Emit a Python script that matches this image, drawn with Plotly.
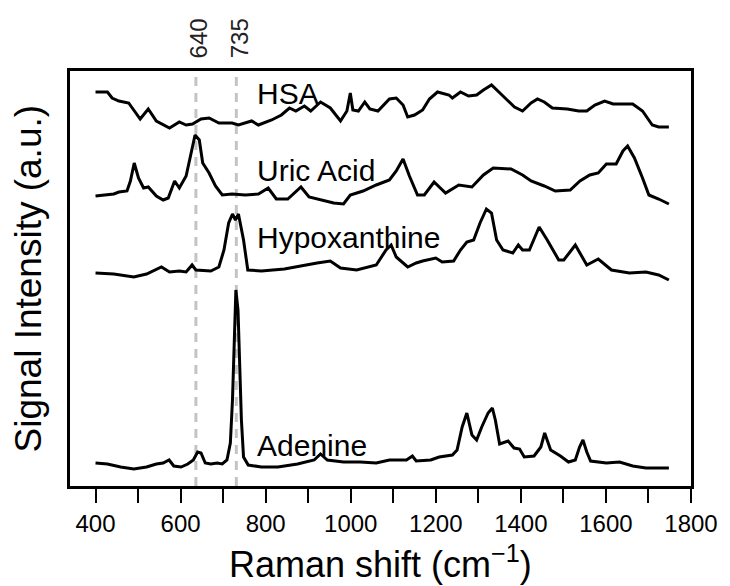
import plotly.graph_objects as go

# ---- data (Raman shift in cm^-1, signal intensity in arbitrary, stacked units) ----
hsa_x = [400, 428, 439, 455, 478, 505, 524, 543, 574, 597, 613, 628, 648, 667, 690, 721, 736, 767, 783,
         814, 837, 856, 871, 891, 906, 929, 952, 976, 991, 999, 1005, 1018, 1033, 1045, 1064, 1091, 1107,
         1123, 1134, 1150, 1169, 1185, 1204, 1231, 1239, 1258, 1277, 1296, 1312, 1331, 1358, 1385, 1404,
         1424, 1439, 1455, 1474, 1509, 1536, 1555, 1574, 1597, 1617, 1663, 1686, 1709, 1724, 1748]
hsa_y = [394, 394, 388, 385, 383, 367, 377, 365, 358, 364, 361, 362, 367, 368, 363, 363, 361, 365, 361,
         366, 371, 378, 375, 380, 375, 384, 378, 365, 375, 393, 376, 375, 384, 377, 375, 387, 388,
         381, 369, 371, 376, 387, 394, 391, 388, 394, 390, 391, 396, 401, 390, 379, 375,
         383, 387, 384, 378, 377, 375, 375, 381, 385, 382, 382, 375, 361, 359, 359]

uric_x = [400, 428, 443, 455, 474, 482, 491, 501, 513, 524, 543, 559, 571, 586, 597, 613, 624, 634, 644,
          652, 667, 682, 698, 721, 752, 783, 806, 825, 852, 883, 902, 937, 960, 983, 999, 1029, 1060,
          1091, 1107, 1123, 1138, 1157, 1173, 1196, 1223, 1254, 1285, 1312, 1335, 1377, 1404, 1424, 1455,
          1481, 1516, 1539, 1562, 1582, 1601, 1624, 1640, 1651, 1667, 1686, 1701, 1724, 1748]
uric_y = [290, 291, 292, 294, 295, 305, 323, 308, 298, 299, 290, 286, 288, 305, 298, 310, 331, 351, 346,
          323, 313, 300, 291, 292, 291, 292, 298, 287, 287, 299, 289, 285, 283, 282, 291, 295, 301,
          306, 315, 327, 310, 291, 291, 304, 293, 301, 299, 311, 318, 317, 311, 305, 300,
          295, 296, 305, 311, 313, 322, 322, 335, 340, 328, 308, 291, 287, 282]

hypo_x = [400, 443, 490, 520, 555, 574, 597, 613, 627, 636, 671, 690, 702, 713, 722, 729, 736, 748, 758,
          790, 844, 891, 921, 952, 976, 1014, 1060, 1083, 1095, 1107, 1134, 1154, 1169, 1200, 1215, 1242,
          1258, 1273, 1289, 1304, 1319, 1331, 1343, 1358, 1381, 1394, 1404, 1420, 1443, 1462, 1489, 1501,
          1528, 1555, 1582, 1613, 1655, 1694, 1724, 1748]
hypo_y = [213, 212, 209, 212, 219, 214, 215, 214, 221, 216, 215, 219, 236, 263, 272, 266, 272, 246, 216,
          215, 217, 221, 223, 225, 218, 216, 221, 236, 241, 229, 219, 223, 225, 228, 224, 225,
          236, 244, 246, 263, 277, 273, 246, 236, 233, 241, 236, 236, 259, 246, 226, 226,
          241, 221, 227, 216, 213, 214, 211, 206]

aden_x = [400, 428, 459, 490, 520, 543, 559, 573, 584, 601, 617, 630, 640, 648, 658, 671, 686, 698, 709,
          717, 722, 726, 730, 735, 739, 743, 748, 759, 790, 829, 875, 914, 929, 945, 983, 1022, 1060,
          1091, 1131, 1145, 1154, 1188, 1208, 1239, 1250, 1262, 1273, 1285, 1296, 1308, 1323, 1333, 1340,
          1350, 1370, 1384, 1397, 1408, 1431, 1447, 1456, 1470, 1493, 1512, 1528, 1538, 1546, 1555, 1564,
          1601, 1632, 1663, 1694, 1748]
aden_y = [23, 22, 19, 17, 19, 22, 23, 26, 20, 19, 22, 26, 34, 33, 23, 22, 23, 22, 26,
          43, 86, 153, 196, 176, 116, 66, 29, 21, 19, 19, 22, 26, 32, 26, 24, 24, 23,
          26, 26, 30, 25, 26, 29, 31, 36, 59, 73, 51, 46, 59, 73, 78, 66,
          42, 45, 38, 37, 29, 30, 39, 53, 36, 30, 24, 26, 39, 46, 34, 25,
          23, 24, 20, 18, 18]

labels = ["HSA", "Uric Acid", "Hypoxanthine", "Adenine"]
label_x = [775, 775, 775, 775]
label_y = [393, 316, 249, 41]

marker_lines = [636, 731]
marker_text = ["640", "735"]
marker_text_x = [642, 738]

x_major_ticks = list(range(400, 1801, 200))

FONT = "Liberation Sans, Arial, sans-serif"

fig = go.Figure()
for xs, ys in [(hsa_x, hsa_y), (uric_x, uric_y), (hypo_x, hypo_y), (aden_x, aden_y)]:
    fig.add_trace(go.Scatter(x=xs, y=ys, mode="lines",
                             line=dict(color="black", width=3),
                             showlegend=False, hoverinfo="skip"))

for xv in marker_lines:
    fig.add_shape(type="line", x0=xv, x1=xv, xref="x", y0=0, y1=1, yref="paper",
                  line=dict(color="#c4c4c4", width=3, dash="9px,7px"), layer="below")

for t, xv in zip(marker_text, marker_text_x):
    fig.add_annotation(x=xv, xref="x", y=1, yref="paper", text=t, showarrow=False,
                       textangle=-90, xanchor="center", yanchor="bottom", yshift=11,
                       font=dict(family=FONT, size=24, color="#222"))

for t, xv, yv in zip(labels, label_x, label_y):
    fig.add_annotation(x=xv, y=yv, xref="x", yref="y", text=t, showarrow=False,
                       xanchor="left", yanchor="middle",
                       font=dict(family=FONT, size=30, color="black"))

fig.add_annotation(x=0.5, xref="paper", y=0, yref="paper",
                   text="Raman shift (cm<sup>\u22121</sup>)", showarrow=False,
                   xanchor="center", yanchor="middle", yshift=-76,
                   font=dict(family=FONT, size=36, color="black"))
fig.add_annotation(x=0, xref="paper", y=0.5, yref="paper",
                   text="Signal Intensity (a.u.)", showarrow=False, textangle=-90,
                   xanchor="center", yanchor="middle", xshift=-42,
                   font=dict(family=FONT, size=37, color="black"))

fig.update_layout(
    width=730, height=586,
    margin=dict(l=70, r=28, t=71, b=100),
    paper_bgcolor="white", plot_bgcolor="white",
    xaxis=dict(range=[340, 1800], tickmode="array", tickvals=x_major_ticks,
               ticks="outside", ticklen=14, tickwidth=2, tickcolor="black",
               minor=dict(ticks="outside", ticklen=14, tickwidth=2, tickcolor="black",
                          tick0=400, dtick=100, showgrid=False),
               showline=True, linecolor="black", linewidth=2.5, mirror=True,
               showgrid=False, zeroline=False,
               tickfont=dict(family=FONT, size=24, color="black")),
    yaxis=dict(range=[0, 415], showticklabels=False, ticks="",
               showline=True, linecolor="black", linewidth=2.5, mirror=True,
               showgrid=False, zeroline=False),
)

fig.write_html("out.html")
